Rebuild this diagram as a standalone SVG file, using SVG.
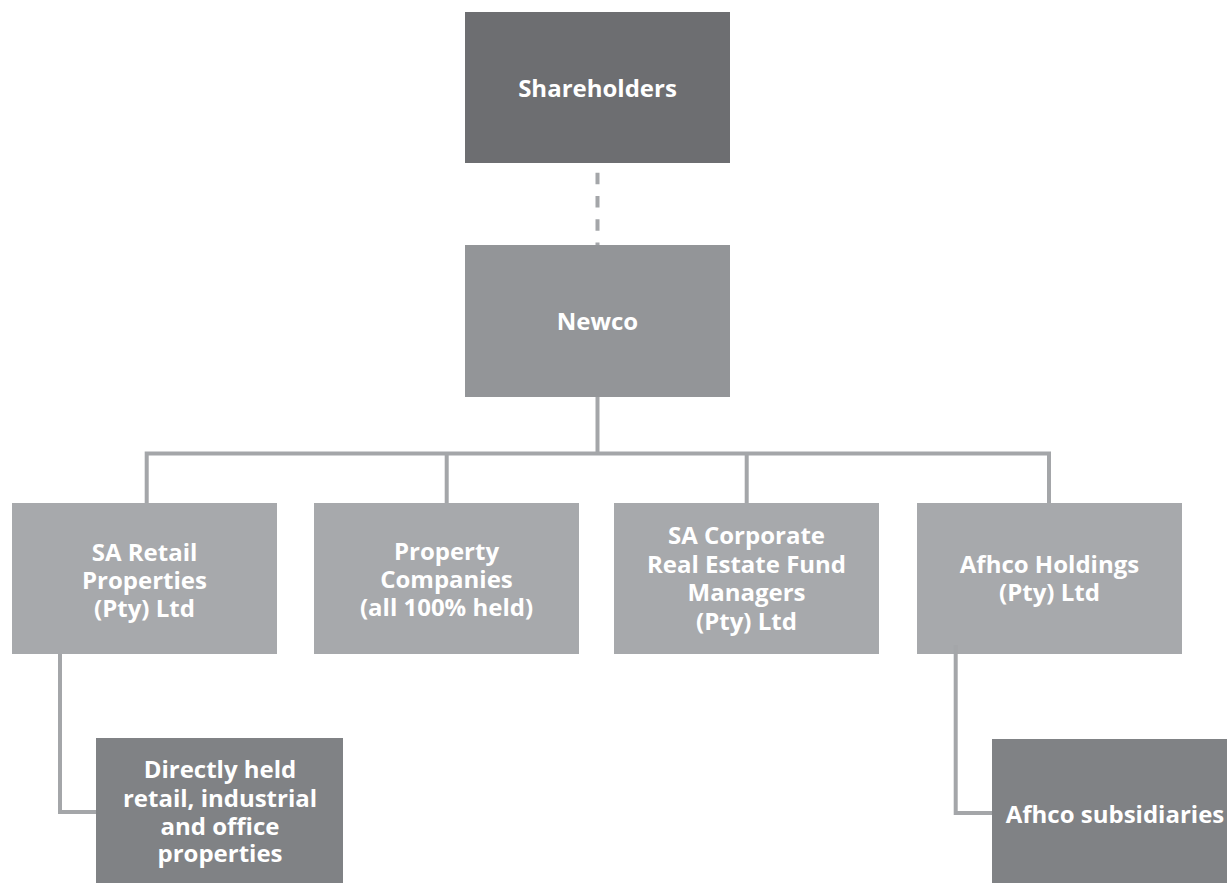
<svg xmlns="http://www.w3.org/2000/svg" width="1227" height="883" viewBox="0 0 1227 883">
<style>
text{font-family:"Open Sans",Lato,"Liberation Sans",sans-serif;font-weight:bold;font-size:24px;fill:#ffffff;text-anchor:middle}
.dark{fill:#6d6e71}
.mid{fill:#939598}
.light{fill:#a7a9ac}
.low{fill:#808285}
.conn{stroke:#a4a6a9;stroke-width:4;fill:none}
</style>
<rect width="1227" height="883" fill="#ffffff"/>
<g id="node-shareholders">
<rect class="dark" x="465" y="12" width="265" height="151"/>
<text x="597.5" y="97">Shareholders</text>
</g>
<g id="node-newco">
<rect class="mid" x="465" y="245" width="265" height="152"/>
<text x="597.5" y="330">Newco</text>
</g>
<g id="node-sa-retail">
<rect class="light" x="12" y="503" width="265" height="151"/>
<text x="144.5" y="561">SA Retail</text>
<text x="144.5" y="589">Properties</text>
<text x="144.5" y="617">(Pty) Ltd</text>
</g>
<g id="node-property-companies">
<rect class="light" x="314" y="503" width="265" height="151"/>
<text x="446.5" y="560">Property</text>
<text x="446.5" y="588">Companies</text>
<text x="446.5" y="616">(all 100% held)</text>
</g>
<g id="node-sa-corporate">
<rect class="light" x="614" y="503" width="265" height="151"/>
<text x="746.5" y="544">SA Corporate</text>
<text x="746.5" y="572.5">Real Estate Fund</text>
<text x="746.5" y="601">Managers</text>
<text x="746.5" y="629.5">(Pty) Ltd</text>
</g>
<g id="node-afhco-holdings">
<rect class="light" x="917" y="503" width="265" height="151"/>
<text x="1049.5" y="572.5">Afhco Holdings</text>
<text x="1049.5" y="601">(Pty) Ltd</text>
</g>
<g id="node-directly-held">
<rect class="low" x="96" y="738" width="247" height="145"/>
<text x="220" y="778">Directly held</text>
<text x="220" y="806.5">retail, industrial</text>
<text x="220" y="835">and office</text>
<text x="220" y="862">properties</text>
</g>
<g id="node-afhco-subsidiaries">
<rect class="low" x="992" y="739" width="246" height="144"/>
<text x="1115" y="822.5">Afhco subsidiaries</text>
</g>
<g id="connectors">
<line class="conn" x1="597.5" y1="172.7" x2="597.5" y2="245" stroke-dasharray="11.5 11.8"/>
<line class="conn" x1="597.5" y1="397" x2="597.5" y2="453.5"/>
<polyline class="conn" points="146.7,503 146.7,453.5 1049,453.5 1049,503"/>
<line class="conn" x1="446.7" y1="453.5" x2="446.7" y2="503"/>
<line class="conn" x1="746.7" y1="453.5" x2="746.7" y2="503"/>
<polyline class="conn" points="60,654 60,812 96,812"/>
<polyline class="conn" points="955.7,645 955.7,813 992,813"/>
</g>
</svg>
